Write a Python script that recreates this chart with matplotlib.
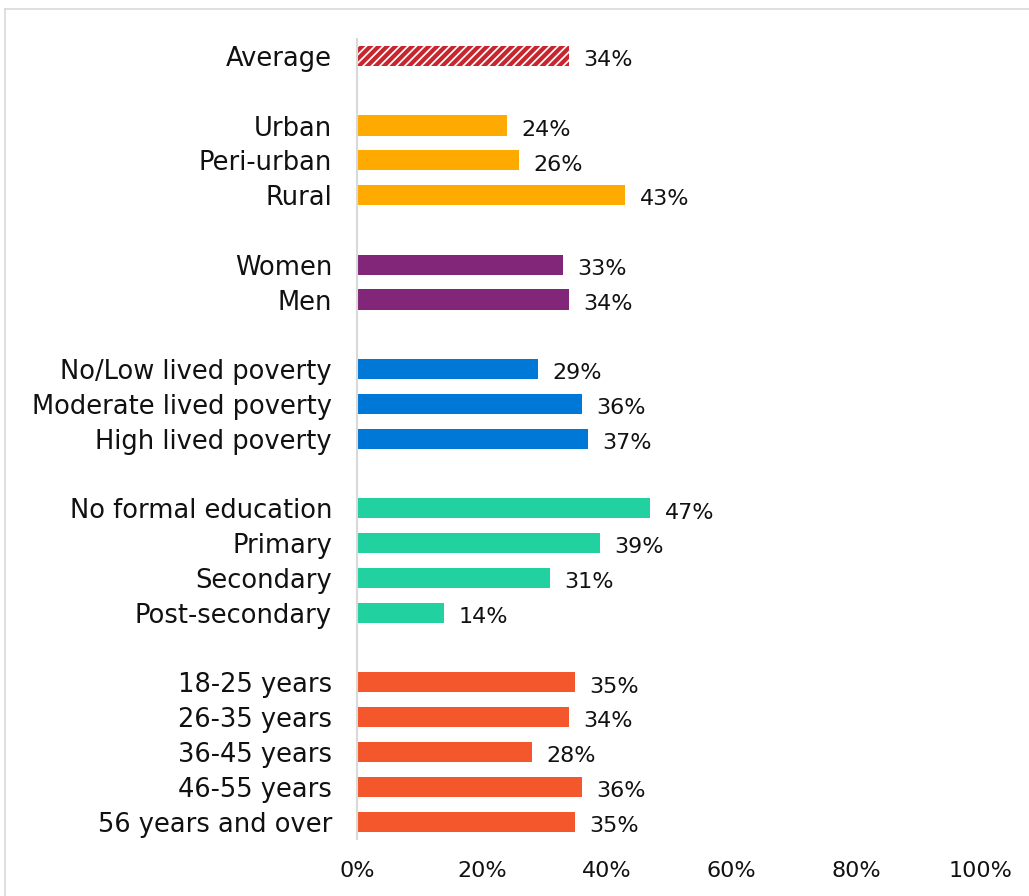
import matplotlib.pyplot as plt
from matplotlib.lines import Line2D

# Share of respondents by group
labels = ["Average",
          "Urban", "Peri-urban", "Rural",
          "Women", "Men",
          "No/Low lived poverty", "Moderate lived poverty", "High lived poverty",
          "No formal education", "Primary", "Secondary", "Post-secondary",
          "18-25 years", "26-35 years", "36-45 years", "46-55 years", "56 years and over"]
values = [34,
          24, 26, 43,
          33, 34,
          29, 36, 37,
          47, 39, 31, 14,
          35, 34, 28, 36, 35]
positions = [0, 2, 3, 4, 6, 7, 9, 10, 11, 13, 14, 15, 16, 18, 19, 20, 21, 22]
group_colors = ["#C8262E",
                "#FFAA00", "#FFAA00", "#FFAA00",
                "#82267A", "#82267A",
                "#0078D7", "#0078D7", "#0078D7",
                "#21D19F", "#21D19F", "#21D19F", "#21D19F",
                "#F4572B", "#F4572B", "#F4572B", "#F4572B", "#F4572B"]
xticks = [0, 20, 40, 60, 80, 100]

plt.rcParams['font.family'] = ['DejaVu Sans']
plt.rcParams['hatch.linewidth'] = 3.0

fig = plt.figure(figsize=(10.29, 8.96), dpi=100)
ax = fig.add_axes([0.347, 0.0636, 0.606, 0.8934])

for i, (p, v, c) in enumerate(zip(positions, values, group_colors)):
    if i == 0:
        ax.barh(p, v, height=0.58, color="white", edgecolor=c, hatch="////", linewidth=0)
    else:
        ax.barh(p, v, height=0.58, color=c, linewidth=0)
    ax.text(v + 2.3, p + 0.12, f"{v}%", va="center", ha="left", fontsize=16, color="#111111")

ax.set_xlim(0, 100)
ax.set_ylim(22.5, -0.5)
ax.set_yticks(positions)
ax.set_yticklabels(labels, fontsize=18.5, color="#111111")
ax.set_xticks(xticks)
ax.set_xticklabels([f"{t}%" for t in xticks], fontsize=16, color="#111111")
ax.tick_params(axis="both", length=0)
ax.tick_params(axis="y", pad=18)
ax.tick_params(axis="x", pad=16)

for side in ["top", "right", "bottom"]:
    ax.spines[side].set_visible(False)
ax.spines["left"].set_color("#D9D9D9")
ax.spines["left"].set_linewidth(1.5)

# outer chart frame
fig.add_artist(Line2D([5 / 1029, 5 / 1029], [0, 1 - 9 / 896], color="#D9D9D9", lw=1.2))
fig.add_artist(Line2D([5 / 1029, 1], [1 - 9 / 896, 1 - 9 / 896], color="#D9D9D9", lw=1.2))

fig.savefig("out.png", dpi=100)
